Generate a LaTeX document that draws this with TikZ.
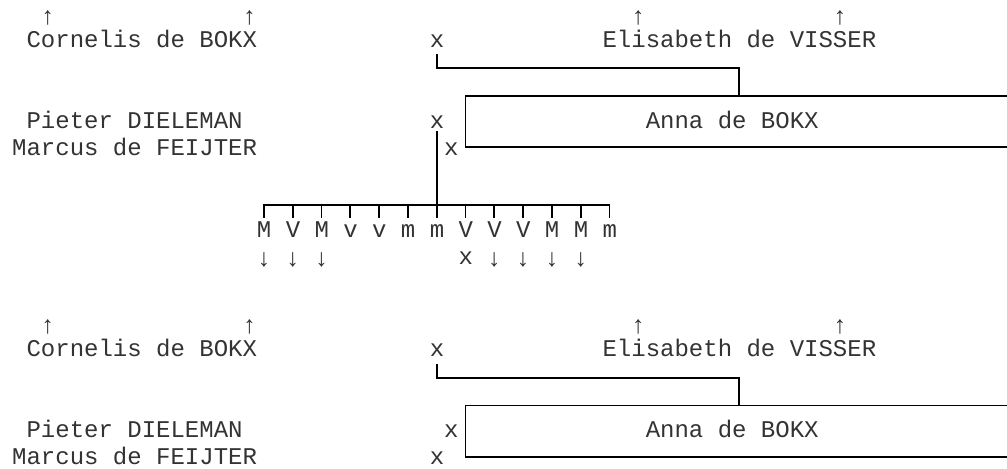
\documentclass[tikz,border=0pt]{standalone}
\usepackage{fontspec}
\newfontfamily\monofam{Liberation Mono}
\newcommand\CS[1]{11.9+14.4*(#1)}
\newcommand\CC[1]{19.1+14.4*(#1)}
\begin{document}
\begin{tikzpicture}[x=0.75pt,y=-0.75pt,
  txt/.style={font=\monofam\fontsize{18pt}{20pt}\selectfont, inner sep=0pt, anchor=base west, text=black!80},
  arr/.style={font=\monofam\fontsize{18.5pt}{20pt}\selectfont, inner sep=0pt, anchor=center, text=black!80},
  ln/.style={line width=1.4pt, black, line cap=rect}]
\useasboundingbox (0,0) rectangle (1007,468);

% ---------------- upper block ----------------
\node[arr] (uA1) at ({\CC{2}},17.5) {↑};
\node[arr] (uA2) at ({\CC{16}},17.5) {↑};
\node[arr] (uA3) at ({\CC{43}},17.5) {↑};
\node[arr] (uA4) at ({\CC{57}},17.5) {↑};
\node[txt] (uCor) at ({\CS{1}},47) {Cornelis de BOKX};
\node[txt] (uX1) at ({\CS{29}},47) {x};
\node[txt] (uEli) at ({\CS{41}},47) {Elisabeth de VISSER};
\coordinate (uJ1) at ({\CC{29}},55);
\coordinate (uJ2) at ({\CC{29}},68.3);
\coordinate (uJ3) at ({\CC{50}},68.3);
\coordinate (uJ4) at ({\CC{50}},96);
\draw[ln] (uJ1) -- (uJ2) -- (uJ3) -- (uJ4);
\coordinate (uBtr) at (1012,96);
\coordinate (uBtl) at ({\CC{31}},96);
\coordinate (uBbl) at ({\CC{31}},146.7);
\coordinate (uBbr) at (1012,146.7);
\draw[ln] (uBtr) -- (uBtl) -- (uBbl) -- (uBbr);
\node[txt] (uPie) at ({\CS{1}},128) {Pieter DIELEMAN};
\node[txt] (uX2) at ({\CS{29}},128) {x};
\node[txt] (uAnna) at ({\CS{44}},128) {Anna de BOKX};
\node[txt] (uMar) at ({\CS{0}},155) {Marcus de FEIJTER};
\node[txt] (uX3) at ({\CS{30}},155) {x};
\coordinate (uV1) at ({\CC{29}},132);
\coordinate (uV2) at ({\CC{29}},217.5);
\draw[ln] (uV1) -- (uV2);
\coordinate (uBarL) at ({\CC{17}},205);
\coordinate (uBarR) at ({\CC{41}},205);
\draw[ln] (uBarL) -- (uBarR);
\foreach \i in {17,19,...,41} {
  \coordinate (t\i a) at ({\CC{\i}},205);
  \coordinate (t\i b) at ({\CC{\i}},217.5);
  \draw[ln] (t\i a) -- (t\i b);
}
\foreach \l [count=\k from 0] in {M,V,M,v,v,m,m,V,V,V,M,M,m}
  \node[txt] (ch\k) at ({\CS{17+2*\k}},237) {\l};
\foreach \i in {17,19,21,33,35,37,39}
  \node[arr] (dn\i) at ({\CC{\i}},260) {↓};
\node[txt] (uX4) at ({\CS{31}},264) {x};

% ---------------- lower block ----------------
\begin{scope}[shift={(0,309.5)}]
\node[arr] (lA1) at ({\CC{2}},17.5) {↑};
\node[arr] (lA2) at ({\CC{16}},17.5) {↑};
\node[arr] (lA3) at ({\CC{43}},17.5) {↑};
\node[arr] (lA4) at ({\CC{57}},17.5) {↑};
\node[txt] (lCor) at ({\CS{1}},47) {Cornelis de BOKX};
\node[txt] (lX1) at ({\CS{29}},47) {x};
\node[txt] (lEli) at ({\CS{41}},47) {Elisabeth de VISSER};
\coordinate (lJ1) at ({\CC{29}},55);
\coordinate (lJ2) at ({\CC{29}},68.3);
\coordinate (lJ3) at ({\CC{50}},68.3);
\coordinate (lJ4) at ({\CC{50}},96);
\draw[ln] (lJ1) -- (lJ2) -- (lJ3) -- (lJ4);
\coordinate (lBtr) at (1012,96);
\coordinate (lBtl) at ({\CC{31}},96);
\coordinate (lBbl) at ({\CC{31}},147.8);
\coordinate (lBbr) at (1012,147.8);
\draw[ln] (lBtr) -- (lBtl) -- (lBbl) -- (lBbr);
\node[txt] (lPie) at ({\CS{1}},128) {Pieter DIELEMAN};
\node[txt] (lX2) at ({\CS{30}},128) {x};
\node[txt] (lAnna) at ({\CS{44}},128) {Anna de BOKX};
\node[txt] (lMar) at ({\CS{0}},155) {Marcus de FEIJTER};
\node[txt] (lX3) at ({\CS{29}},155) {x};
\end{scope}
\end{tikzpicture}
\end{document}
